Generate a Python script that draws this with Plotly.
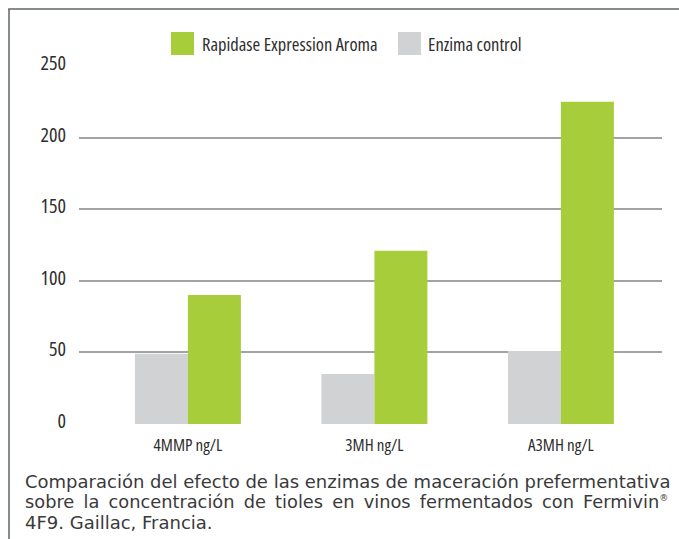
import plotly.graph_objects as go

categories = ["4MMP ng/L", "3MH ng/L", "A3MH ng/L"]
control_name = "Enzima control"
control_values = [49, 35, 51]
rapidase_name = "Rapidase Expression Aroma"
rapidase_values = [90, 121, 225]
y_ticks = [0, 50, 100, 150, 200, 250]

caption_lines = [
    "Comparación del efecto de las enzimas de maceración prefermentativa",
    "sobre la concentración de tioles en vinos fermentados con Fermivin<sup><span style='font-size:9px'>®</span></sup>",
    "4F9. Gaillac, Francia.",
]

GREEN = "#a7cd3a"
GRAY = "#d1d2d4"
COND = "Open Sans"
TXT = "#2e2e2e"

W, H = 679, 539
L, R, T, B = 79, 17, 66, 115
pw, ph = W - L - R, H - T - B

def px_x(x):
    return (x - L) / pw

def px_y(y):
    return (H - B - y) / ph

fig = go.Figure()
fig.add_trace(go.Bar(x=categories, y=control_values, name=control_name,
                     marker=dict(color=GRAY, line=dict(width=0)), showlegend=False))
fig.add_trace(go.Bar(x=categories, y=rapidase_values, name=rapidase_name,
                     marker=dict(color=GREEN, line=dict(width=0)), showlegend=False))

line2 = caption_lines[1].replace(" ", " \u2009", 9)

shapes = [
    dict(type="line", xref="paper", yref="paper", x0=px_x(9), x1=px_x(9),
         y0=px_y(9), y1=px_y(H + 5), line=dict(color="#5e6467", width=1.5)),
    dict(type="line", xref="paper", yref="paper", x0=px_x(8.25), x1=px_x(W + 5),
         y0=px_y(9), y1=px_y(9), line=dict(color="#5e6467", width=1.5)),
    dict(type="rect", xref="paper", yref="paper", x0=px_x(171), x1=px_x(194),
         y0=px_y(32), y1=px_y(55), fillcolor=GREEN, line=dict(width=0)),
    dict(type="rect", xref="paper", yref="paper", x0=px_x(398), x1=px_x(421),
         y0=px_y(32), y1=px_y(55), fillcolor=GRAY, line=dict(width=0)),
]

cond_font = dict(family=COND, size=18.5, color=TXT, weight=380)
annotations = [
    dict(text=rapidase_name, xref="paper", yref="paper", x=px_x(200), y=px_y(44),
         xanchor="left", yanchor="middle", align="left", showarrow=False,
         font=cond_font),
    dict(text=control_name, xref="paper", yref="paper", x=px_x(426), y=px_y(44),
         xanchor="left", yanchor="middle", align="left", showarrow=False,
         font=cond_font),
]
for i, t in enumerate([caption_lines[0], line2, caption_lines[2]]):
    annotations.append(dict(text=t, xref="paper", yref="paper", x=px_x(23),
                            y=px_y(481 + 20.5 * i), xanchor="left", yanchor="middle",
                            align="left", showarrow=False,
                            font=dict(family="DejaVu Sans", size=17.8 if i == 1 else 18,
                                      color="#3a3a3a")))

fig.update_layout(
    width=W, height=H,
    margin=dict(l=L, r=R, t=T, b=B),
    paper_bgcolor="white", plot_bgcolor="white",
    barmode="group", bargap=0.432, bargroupgap=0,
    showlegend=False,
    shapes=shapes, annotations=annotations,
    xaxis=dict(range=[-0.584, 2.542], showgrid=False, showline=False, zeroline=False,
               ticks="outside", ticklen=6, tickcolor="rgba(0,0,0,0)",
               tickfont=dict(family=COND, size=17, color=TXT, weight=380)),
    yaxis=dict(range=[0, 250], tickvals=y_ticks, showgrid=True, gridcolor="#a3a3a3",
               gridwidth=1.6, zeroline=False, showline=False,
               ticks="outside", ticklen=8, tickcolor="rgba(0,0,0,0)",
               ticklabelshift=-3,
               tickfont=dict(family=COND, size=20, color=TXT, weight=380)),
)

post = (
    "document.body.style.margin='0';"
    "var s=document.createElement('style');"
    "s.textContent='.xtick text,.ytick text,.annotation[data-index=\"0\"] text,"
    ".annotation[data-index=\"1\"] text{font-stretch:75% !important;}';"
    "document.head.appendChild(s);"
)
fig.write_html("out.html", post_script=post, config={"displayModeBar": False})
